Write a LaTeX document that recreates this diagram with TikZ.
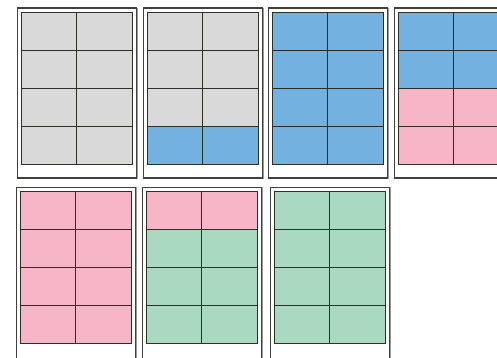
\documentclass[tikz,border=0pt]{standalone}
\usetikzlibrary{calc}
\definecolor{cgray}{HTML}{D9D9D9}
\definecolor{cblue}{HTML}{72B1E0}
\definecolor{cpink}{HTML}{F7B6C8}
\definecolor{cgreen}{HTML}{AAD9C1}
\definecolor{cline}{HTML}{2E2E22}
\tikzset{
  frame/.style={draw=black!75, line width=1.1pt, fill=white},
  frameshade/.style={draw=black!40, line width=1.6pt},
  cell/.style={draw=cline, line width=0.9pt}
}
% #1 x of frame, #2 y of frame top, #3 frame height, #4..#7 row colours
\newcommand{\sheetpanel}[7]{%
  \draw[frameshade] (#1+0.6,#2+0.6) rectangle (#1+119.5+0.6,#2+#3+0.6);
  \draw[frame] (#1,#2) rectangle (#1+119.5,#2+#3);
  \foreach \c [count=\r from 0] in {#4,#5,#6,#7}{
    \foreach \k in {0,1}{
      \draw[cell, fill=\c] (#1+3.7+\k*55.5,#2+4+\r*38.1) rectangle ++(55.5,38.1);
    }
  }
}
\begin{document}
\begin{tikzpicture}[x=1pt,y=-1pt]
\useasboundingbox (0,0) rectangle (497,357);
\clip (0,0) rectangle (497,357);
\sheetpanel{17.3}{8}{170}{cgray}{cgray}{cgray}{cgray}
\sheetpanel{143.3}{8}{170}{cgray}{cgray}{cgray}{cblue}
\sheetpanel{268.3}{8}{170}{cblue}{cblue}{cblue}{cblue}
\sheetpanel{394.3}{8}{170}{cblue}{cblue}{cpink}{cpink}
\sheetpanel{16.3}{187.5}{175}{cpink}{cpink}{cpink}{cpink}
\sheetpanel{142.3}{187.5}{175}{cpink}{cgreen}{cgreen}{cgreen}
\sheetpanel{270.3}{187.5}{175}{cgreen}{cgreen}{cgreen}{cgreen}
\end{tikzpicture}
\end{document}
